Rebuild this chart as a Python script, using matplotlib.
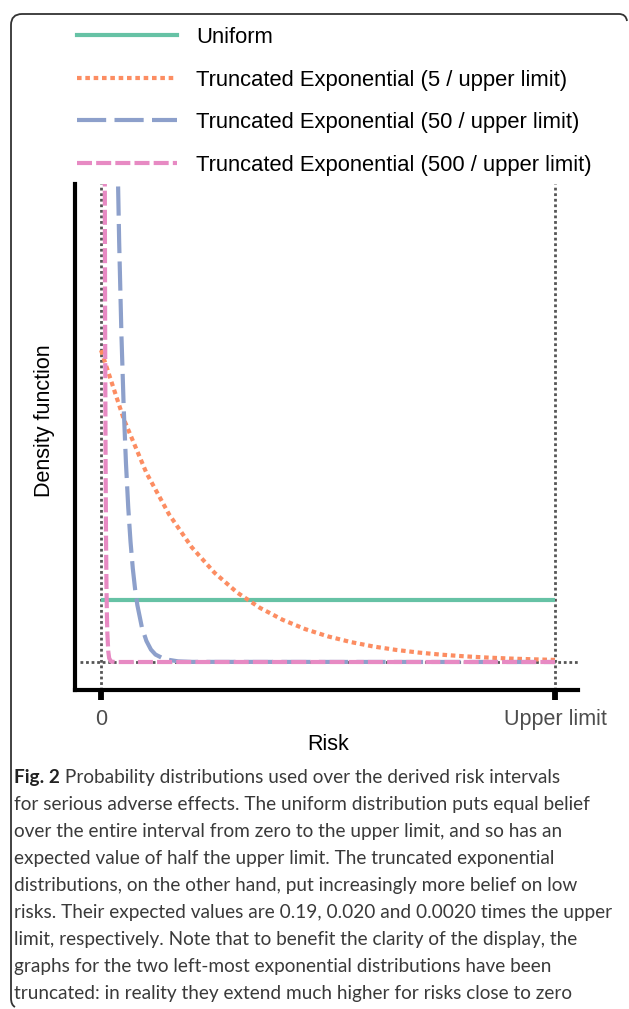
import matplotlib
matplotlib.use("Agg")
import matplotlib.pyplot as plt
from matplotlib.lines import Line2D
from matplotlib.path import Path
from matplotlib.patches import PathPatch

# ---------------- data ----------------
series_labels = ["Uniform",
                 "Truncated Exponential (5 / upper limit)",
                 "Truncated Exponential (50 / upper limit)",
                 "Truncated Exponential (500 / upper limit)"]
tick_labels = ["0", "Upper limit"]

uniform_x = [0.0, 1.0]
uniform_y = [1.0, 1.0]

exp5_x = [0.0, 0.05, 0.10, 0.15, 0.20, 0.25, 0.30, 0.35, 0.40, 0.45, 0.50,
          0.55, 0.60, 0.65, 0.70, 0.75, 0.80, 0.85, 0.90, 0.95, 1.00]
exp5_y = [5.03, 3.92, 3.05, 2.38, 1.85, 1.44, 1.12, 0.874, 0.681, 0.530, 0.413,
          0.322, 0.250, 0.195, 0.152, 0.118, 0.092, 0.072, 0.056, 0.044, 0.034]

exp50_x = [0.030, 0.035, 0.040, 0.045, 0.050, 0.055, 0.060, 0.065, 0.070,
           0.075, 0.080, 0.090, 0.100, 0.110, 0.120, 0.140, 0.170, 0.200, 1.000]
exp50_y = [11.16, 8.69, 6.77, 5.27, 4.10, 3.20, 2.49, 1.94, 1.51,
           1.18, 0.92, 0.56, 0.34, 0.20, 0.12, 0.046, 0.010, 0.002, 0.0]

exp500_x = [0.006, 0.007, 0.008, 0.009, 0.010, 0.011, 0.012, 0.013, 0.014,
            0.016, 0.018, 0.022, 0.030, 1.000]
exp500_y = [24.9, 15.1, 9.16, 5.55, 3.37, 2.04, 1.24, 0.75, 0.46,
            0.17, 0.06, 0.008, 0.0, 0.0]

caption_bold = "Fig. 2"
caption_lines = [
    " Probability distributions used over the derived risk intervals",
    "for serious adverse effects. The uniform distribution puts equal belief",
    "over the entire interval from zero to the upper limit, and so has an",
    "expected value of half the upper limit. The truncated exponential",
    "distributions, on the other hand, put increasingly more belief on low",
    "risks. Their expected values are 0.19, 0.020 and 0.0020 times the upper",
    "limit, respectively. Note that to benefit the clarity of the display, the",
    "graphs for the two left-most exponential distributions have been",
    "truncated: in reality they extend much higher for risks close to zero",
]

# ---------------- styling ----------------
W, H = 629, 1009
colors = ["#66c2a5", "#fc8d62", "#8da0cb", "#e78ac3"]
styles = ["-", (0, (1.1, 0.9)), (0, (7, 2)), (0, (3.6, 1.0))]
LW = 3.0
plt.rcParams["font.family"] = ["Liberation Sans", "DejaVu Sans"]

fig = plt.figure(figsize=(W / 100, H / 100), dpi=100)

def px2fig(x, y):
    return x / W, 1 - y / H

ax_l, ax_r, ax_t, ax_b = 75, 578, 184, 690
ax = fig.add_axes([ax_l / W, 1 - ax_b / H, (ax_r - ax_l) / W, (ax_b - ax_t) / H])

ax.set_xlim(-0.0573, 1.0507)
ax.set_ylim(-0.4516, 7.71)

# reference dotted lines
grey = "#555555"
ax.axvline(0, color=grey, lw=2.0, ls=(0, (1, 1)), zorder=1)
ax.axvline(1, color=grey, lw=2.0, ls=(0, (1, 1)), zorder=1)
ax.axhline(0, xmin=0.01, color=grey, lw=2.0, ls=(0, (1, 1)), zorder=1)

xs = [uniform_x, exp5_x, exp50_x, exp500_x]
ys = [uniform_y, exp5_y, exp50_y, exp500_y]
handles = []
for i in range(4):
    ax.plot(xs[i], ys[i], color=colors[i], lw=LW, ls=styles[i],
            zorder=2 + i, solid_capstyle="butt", dash_capstyle="butt")
    handles.append(Line2D([], [], color=colors[i], lw=LW, ls=styles[i]))

for s in ["top", "right"]:
    ax.spines[s].set_visible(False)
for s in ["left", "bottom"]:
    ax.spines[s].set_linewidth(3.0)
    ax.spines[s].set_color("black")

ax.set_yticks([])
ax.set_xticks([0, 1], tick_labels)
ax.tick_params(axis="x", length=7, width=4.2, color="black",
               labelcolor="#4d4d4d", labelsize=15.5, pad=7)

fx, fy = px2fig(328, 745)
fig.text(fx, fy, "Risk", ha="center", va="center", fontsize=15.5, color="black")
fx, fy = px2fig(45, 421)
fig.text(fx, fy, "Density function", ha="center", va="center", rotation=90,
         fontsize=15.5, color="black")

# legend
fs_leg = 15.8
fs_px = fs_leg * 100 / 72
lx, ly = px2fig(77, 27)
fig.legend(handles, series_labels, loc="upper left", bbox_to_anchor=(lx, ly),
           frameon=False, borderpad=0, borderaxespad=0, fontsize=fs_leg,
           handlelength=100 / fs_px, handletextpad=19 / fs_px,
           labelspacing=0.98)

# caption
cap_color = "#3a3a3a"
cap_family = ["Lato", "DejaVu Sans"]
renderer = fig.canvas.get_renderer()
widths = []
for k, line in enumerate(caption_lines):
    probe = fig.text(0, 0, (caption_bold + line) if k == 0 else line,
                     fontsize=14, family=cap_family)
    widths.append(probe.get_window_extent(renderer).width)
    probe.remove()
fs_cap = 14 * 600 / max(widths)

x0 = 14
y0 = 777
dy = 27.1
bx, by = px2fig(x0, y0)
tb = fig.text(bx, by, caption_bold, fontsize=fs_cap, family=cap_family,
              weight="bold", color="#222222", ha="left", va="center")
bw = tb.get_window_extent(renderer).width
for i, line in enumerate(caption_lines):
    xx = x0 + (bw if i == 0 else 0)
    cx, cy = px2fig(xx, y0 + i * dy)
    fig.text(cx, cy, line, fontsize=fs_cap, family=cap_family, color=cap_color,
             ha="left", va="center")

# rounded border (top and left edges)
pts = [(627, 21), (626, 14), (619, 14), (22, 14), (11, 14), (11, 25),
       (11, 998), (11, 1005), (15, 1007)]
codes = [Path.MOVETO, Path.CURVE3, Path.CURVE3, Path.LINETO, Path.CURVE3,
         Path.CURVE3, Path.LINETO, Path.CURVE3, Path.CURVE3]
verts = [px2fig(x, y) for x, y in pts]
patch = PathPatch(Path(verts, codes), transform=fig.transFigure, fill=False,
                  edgecolor="#333333", lw=1.3)
fig.add_artist(patch)

fig.savefig("out.png", dpi=100)
